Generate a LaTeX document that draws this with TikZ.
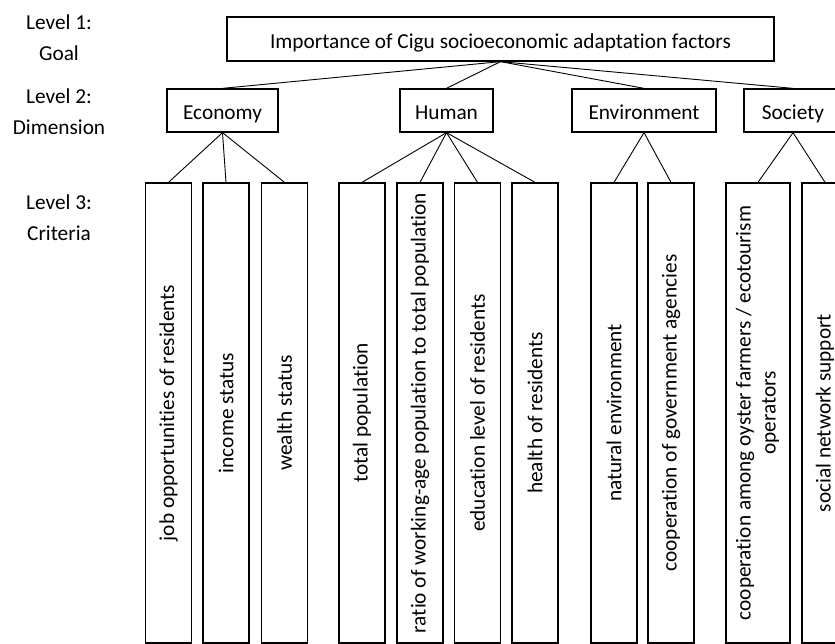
\documentclass[tikz,border=0pt]{standalone}
\usepackage{fontspec}
\setmainfont{Carlito}[Ligatures=NoCommon]
\begin{document}
\begin{tikzpicture}[x=1pt,y=-1pt,
    box/.style={draw,line width=1.3pt,inner sep=0pt,font=\fontsize{21.3}{25}\selectfont},
    head/.style={box,text height=19pt,text depth=0pt},
    crit/.style={box,minimum width=46pt,minimum height=460pt},
    lvl/.style={align=center,font=\fontsize{21.3}{31}\selectfont},
    link/.style={line width=0.9pt}]
            \clip (0,0) rectangle (835,644);
            \node[lvl] (lv1) at (59,37.5) {Level 1:\\Goal};
            \node[lvl] (lv2) at (59,112) {Level 2:\\Dimension};
            \node[lvl] (lv3) at (59,217.5) {Level 3:\\Criteria};
            \node[head,minimum width=547pt,minimum height=44pt] (goal) at (500.5,39) {Importance of Cigu socioeconomic adaptation factors};
            \node[head,minimum width=111pt,minimum height=43pt] (eco) at (222.5,110.5) {Economy};
            \node[head,minimum width=93pt,minimum height=43pt] (hum) at (446.5,110.5) {Human};
            \node[head,minimum width=144pt,minimum height=43pt] (env) at (644,110.5) {Environment};
            \node[head,minimum width=98pt,minimum height=43pt] (soc) at (793,110.5) {Society};
            \node[crit] (job) at (168.5,413) {\rotatebox{90}{job opportunities of residents}};
            \node[crit] (inc) at (226,413) {\rotatebox{90}{income status}};
            \node[crit] (wea) at (284.5,413) {\rotatebox{90}{wealth status}};
            \node[crit] (tot) at (362,413) {\rotatebox{90}{total population}};
            \node[crit] (rat) at (420,413) {\rotatebox{90}{ratio of working-age population to total population}};
            \node[crit] (edu) at (477.5,413) {\rotatebox{90}{education level of residents}};
            \node[crit] (hea) at (535,413) {\rotatebox{90}{health of residents}};
            \node[crit] (nat) at (614,413) {\rotatebox{90}{natural environment}};
            \node[crit] (gov) at (671,413) {\rotatebox{90}{cooperation of government agencies}};
            \node[crit,minimum width=64pt] (oys) at (758,413) {\rotatebox{90}{\begin{tabular}{@{}c@{}}cooperation among oyster farmers / ecotourism\\operators\end{tabular}}};
            \node[crit] (net) at (825,413) {\rotatebox{90}{social network support}};
            \draw[link] (goal.south) -- (eco.north);
            \draw[link] (goal.south) -- (hum.north);
            \draw[link] (goal.south) -- (env.north);
            \draw[link] (goal.south) -- (soc.north);
            \draw[link] (eco.south) -- (job.north);
            \draw[link] (eco.south) -- (inc.north);
            \draw[link] (eco.south) -- (wea.north);
            \draw[link] (hum.south) -- (tot.north);
            \draw[link] (hum.south) -- (rat.north);
            \draw[link] (hum.south) -- (edu.north);
            \draw[link] (hum.south) -- (hea.north);
            \draw[link] (env.south) -- (nat.north);
            \draw[link] (env.south) -- (gov.north);
            \draw[link] (soc.south) -- (oys.north);
            \draw[link] (soc.south) -- (net.north);
        \end{tikzpicture}
\end{document}
